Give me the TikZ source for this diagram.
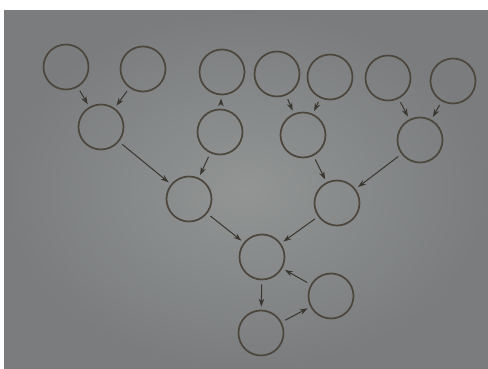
\documentclass[tikz,border=0pt]{standalone}
\usetikzlibrary{arrows.meta}
\definecolor{bgmid}{RGB}{146,149,148}
\definecolor{bgout}{RGB}{122,124,126}
\definecolor{ink}{RGB}{76,70,60}
\definecolor{arrink}{RGB}{58,54,48}
\begin{document}
\begin{tikzpicture}[x=1pt,y=-1pt,
  vtx/.style={circle,draw=ink,line width=1.7pt,minimum size=45pt,inner sep=0pt},
  arr/.style={draw=arrink,line width=1pt,-{Stealth[length=8pt,width=5.5pt]},shorten <=4pt,shorten >=3pt}]
\useasboundingbox (0,0) rectangle (488,369);
\fill[white] (0,0) rectangle (488,369);
\shade[inner color=bgmid,outer color=bgout] (4,11) rectangle (488,369);
% top row
\node[vtx] (a1) at (66,67) {};
\node[vtx] (a2) at (143,69) {};
\node[vtx] (a3) at (222,72) {};
\node[vtx] (a4) at (277,74) {};
\node[vtx] (a5) at (330,77) {};
\node[vtx] (a6) at (388,78) {};
\node[vtx] (a7) at (453,81) {};
% second row
\node[vtx] (b1) at (101,127) {};
\node[vtx] (b2) at (220,132) {};
\node[vtx] (b3) at (303,135) {};
\node[vtx] (b4) at (420,140) {};
% third row
\node[vtx] (c1) at (189,199) {};
\node[vtx] (c2) at (337,203) {};
% lower
\node[vtx] (d) at (262,257) {};
\node[vtx] (e) at (331,296) {};
\node[vtx] (f) at (261,333) {};
% arrows
\draw[arr] (a1) -- (b1);
\draw[arr] (a2) -- (b1);
\draw[arr] (b2) -- (a3);
\draw[arr] (a4) -- (b3);
\draw[arr] (a5) -- (b3);
\draw[arr] (a6) -- (b4);
\draw[arr] (a7) -- (b4);
\draw[arr] (b1) -- (c1);
\draw[arr] (b2) -- (c1);
\draw[arr] (b3) -- (c2);
\draw[arr] (b4) -- (c2);
\draw[arr] (c1) -- (d);
\draw[arr] (c2) -- (d);
\draw[arr] (d) -- (f);
\draw[arr] (f) -- (e);
\draw[arr] (e) -- (d);
\end{tikzpicture}
\end{document}
